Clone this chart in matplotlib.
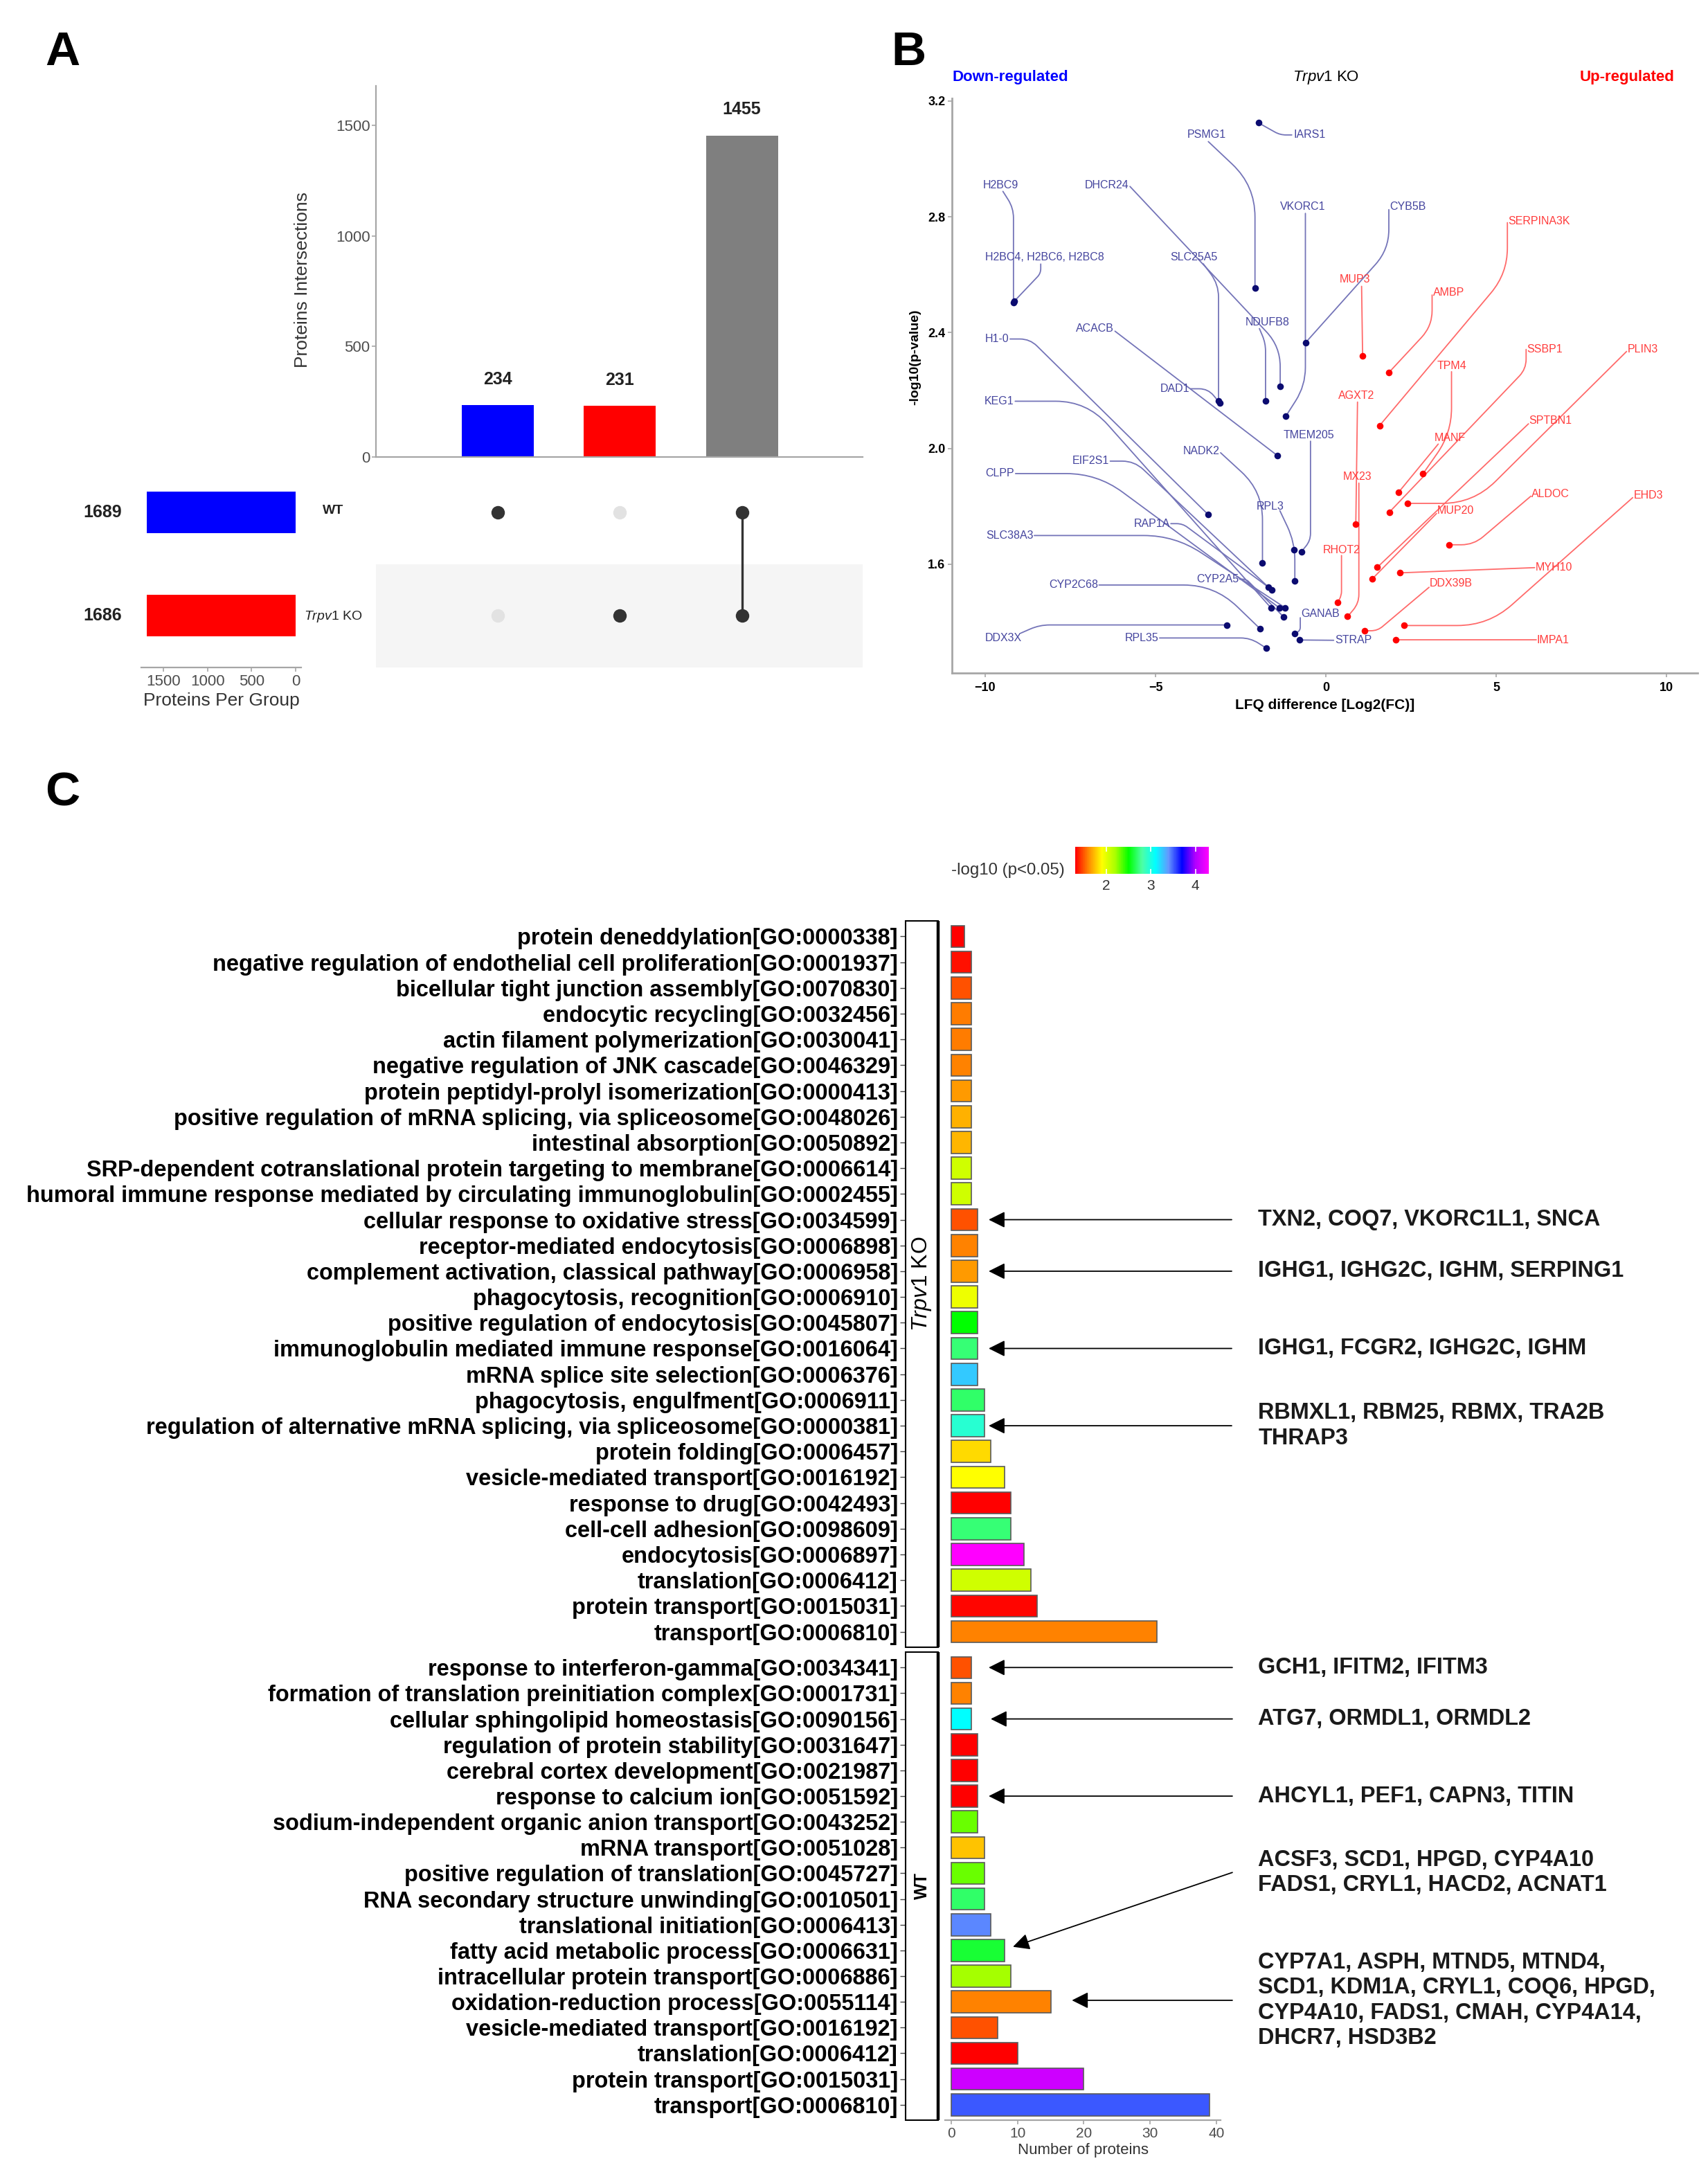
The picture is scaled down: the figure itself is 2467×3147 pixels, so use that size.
import numpy as np
import matplotlib
matplotlib.use('Agg')
import matplotlib.pyplot as plt
from matplotlib import font_manager
from matplotlib.colors import LinearSegmentedColormap, Normalize
from matplotlib.cm import ScalarMappable
from matplotlib.path import Path
from matplotlib.patches import PathPatch, Rectangle
import matplotlib.transforms as mtransforms

# ======================= DATA =======================
# ---- Panel A : UpSet ----
intersection_counts = [234, 231, 1455]
intersection_colors = ['#0000FF', '#FF0000', '#7F7F7F']
member_wt = [1, 0, 1]
member_ko = [0, 1, 1]
set_sizes = [1689, 1686]            # WT, Trpv1 KO
set_colors = ['#0000FF', '#FF0000']

# ---- Panel B : volcano (down-regulated) ----
down_genes = ['IARS1', 'PSMG1', 'H2BC9', 'H2BC4, H2BC6, H2BC8', 'DHCR24', 'SLC25A5', 'DAD1',
              'NDUFB8', 'ACACB', 'VKORC1', 'CYB5B', 'H1-0', 'KEG1', 'EIF2S1', 'CLPP', 'RAP1A',
              'SLC38A3', 'CYP2C68', 'CYP2A5', 'DDX3X', 'RPL35', 'NADK2', 'RPL3', 'TMEM205',
              'GANAB', 'STRAP', '']
down_fc = [-1.98, -2.08, -9.17, -9.15, -1.34, -3.15, -3.12, -1.77, -1.42, -1.17, -0.59, -3.46,
           -1.61, -1.59, -1.36, -1.68, -1.19, -1.94, -1.24, -2.90, -1.75, -1.86, -0.91, -0.72,
           -0.91, -0.77, -0.94]
down_logp = [3.125, 2.553, 2.504, 2.508, 2.214, 2.165, 2.158, 2.163, 1.975, 2.112, 2.366, 1.772,
             1.449, 1.510, 1.449, 1.520, 1.449, 1.378, 1.418, 1.390, 1.310, 1.605, 1.542, 1.643,
             1.360, 1.338, 1.650]
# ---- Panel B : volcano (up-regulated) ----
up_genes = ['MUP3', 'AMBP', 'SERPINA3K', 'TPM4', 'AGXT2', 'MX23', 'RHOT2', 'MANF', 'SSBP1',
            'PLIN3', 'SPTBN1', 'MUP20', 'ALDOC', 'EHD3', 'MYH10', 'DDX39B', 'IMPA1']
up_fc = [1.08, 1.85, 1.58, 2.85, 0.88, 0.64, 0.35, 2.14, 1.86, 2.40, 1.51, 1.37, 3.62, 2.29,
         2.18, 1.14, 2.05]
up_logp = [2.319, 2.262, 2.079, 1.912, 1.739, 1.419, 1.468, 1.849, 1.779, 1.810, 1.589, 1.550,
           1.667, 1.388, 1.570, 1.370, 1.338]

# ---- Panel C : GO enrichment ----
ko_terms = ['protein deneddylation[GO:0000338]',
            'negative regulation of endothelial cell proliferation[GO:0001937]',
            'bicellular tight junction assembly[GO:0070830]',
            'endocytic recycling[GO:0032456]',
            'actin filament polymerization[GO:0030041]',
            'negative regulation of JNK cascade[GO:0046329]',
            'protein peptidyl-prolyl isomerization[GO:0000413]',
            'positive regulation of mRNA splicing, via spliceosome[GO:0048026]',
            'intestinal absorption[GO:0050892]',
            'SRP-dependent cotranslational protein targeting to membrane[GO:0006614]',
            'humoral immune response mediated by circulating immunoglobulin[GO:0002455]',
            'cellular response to oxidative stress[GO:0034599]',
            'receptor-mediated endocytosis[GO:0006898]',
            'complement activation, classical pathway[GO:0006958]',
            'phagocytosis, recognition[GO:0006910]',
            'positive regulation of endocytosis[GO:0045807]',
            'immunoglobulin mediated immune response[GO:0016064]',
            'mRNA splice site selection[GO:0006376]',
            'phagocytosis, engulfment[GO:0006911]',
            'regulation of alternative mRNA splicing, via spliceosome[GO:0000381]',
            'protein folding[GO:0006457]',
            'vesicle-mediated transport[GO:0016192]',
            'response to drug[GO:0042493]',
            'cell-cell adhesion[GO:0098609]',
            'endocytosis[GO:0006897]',
            'translation[GO:0006412]',
            'protein transport[GO:0015031]',
            'transport[GO:0006810]']
ko_counts = [2, 3, 3, 3, 3, 3, 3, 3, 3, 3, 3, 4, 4, 4, 4, 4, 4, 4, 5, 5, 6, 8, 9, 9, 11, 12, 13, 31]
ko_logp = [1.32, 1.35, 1.49, 1.58, 1.59, 1.60, 1.65, 1.71, 1.72, 2.08, 2.08, 1.49, 1.60, 1.65,
           1.97, 2.51, 2.72, 3.25, 2.69, 2.95, 1.82, 1.91, 1.32, 2.72, 4.30, 2.08, 1.33, 1.60]

wt_terms = ['response to interferon-gamma[GO:0034341]',
            'formation of translation preinitiation complex[GO:0001731]',
            'cellular sphingolipid homeostasis[GO:0090156]',
            'regulation of protein stability[GO:0031647]',
            'cerebral cortex development[GO:0021987]',
            'response to calcium ion[GO:0051592]',
            'sodium-independent organic anion transport[GO:0043252]',
            'mRNA transport[GO:0051028]',
            'positive regulation of translation[GO:0045727]',
            'RNA secondary structure unwinding[GO:0010501]',
            'translational initiation[GO:0006413]',
            'fatty acid metabolic process[GO:0006631]',
            'intracellular protein transport[GO:0006886]',
            'oxidation-reduction process[GO:0055114]',
            'vesicle-mediated transport[GO:0016192]',
            'translation[GO:0006412]',
            'protein transport[GO:0015031]',
            'transport[GO:0006810]']
wt_counts = [3, 3, 3, 4, 4, 4, 4, 5, 5, 5, 6, 8, 9, 15, 7, 10, 20, 39]
wt_logp = [1.49, 1.60, 3.10, 1.32, 1.32, 1.32, 2.32, 1.76, 2.32, 2.69, 3.43, 2.60, 2.21, 1.60,
           1.49, 1.32, 4.11, 3.52]

ko_annot_rows = [11, 13, 16, 19]
ko_annot_text = ['TXN2, COQ7, VKORC1L1, SNCA',
                 'IGHG1, IGHG2C, IGHM, SERPING1',
                 'IGHG1, FCGR2, IGHG2C, IGHM',
                 'RBMXL1, RBM25, RBMX, TRA2B\nTHRAP3']
wt_annot_rows = [0, 2, 5, 11, 13]
wt_annot_text = ['GCH1, IFITM2, IFITM3',
                 'ATG7, ORMDL1, ORMDL2',
                 'AHCYL1, PEF1, CAPN3, TITIN',
                 'ACSF3, SCD1, HPGD, CYP4A10\nFADS1, CRYL1, HACD2, ACNAT1',
                 'CYP7A1, ASPH, MTND5, MTND4,\nSCD1, KDM1A, CRYL1, COQ6, HPGD,\nCYP4A10, FADS1, CMAH, CYP4A14,\nDHCR7, HSD3B2']

# ======================= LAYOUT / STYLE =======================
# label placement for volcano: text x, text y, align, line start x, y, path kind, k
LAB = {
    'IARS1': (-0.95, 3.083, 'left', -1.00, 3.083, 'h', 0.35),
    'PSMG1': (-3.50, 3.083, 'center', -3.45, 3.060, 'V', 0.70),
    'H2BC9': (-9.54, 2.910, 'center', -9.48, 2.888, 'V', 0.85),
    'H2BC4, H2BC6, H2BC8': (-8.25, 2.660, 'center', -8.37, 2.637, 'v', 0.25),
    'DHCR24': (-5.78, 2.910, 'right', -5.75, 2.905, 'V', 0.20),
    'SLC25A5': (-3.87, 2.660, 'center', -3.60, 2.638, 'V', 0.85),
    'DAD1': (-4.00, 2.206, 'right', -3.97, 2.206, 'h', 0.60),
    'NDUFB8': (-1.71, 2.436, 'center', -1.95, 2.414, 'V', 0.80),
    'ACACB': (-6.22, 2.413, 'right', -6.19, 2.405, 's', 0),
    'VKORC1': (-0.67, 2.834, 'center', -0.60, 2.812, 'v', 0.85),
    'CYB5B': (1.88, 2.834, 'left', 1.85, 2.825, 'v', 0.30),
    'H1-0': (-9.30, 2.378, 'right', -9.27, 2.378, 'h', 0.10),
    'KEG1': (-9.15, 2.163, 'right', -9.12, 2.163, 'h', 0.28),
    'EIF2S1': (-6.36, 1.956, 'right', -6.33, 1.956, 'h', 0.15),
    'CLPP': (-9.14, 1.913, 'right', -9.11, 1.913, 'h', 0.31),
    'RAP1A': (-4.58, 1.740, 'right', -4.55, 1.740, 'h', 0.12),
    'SLC38A3': (-8.59, 1.699, 'right', -8.56, 1.699, 'h', 0.56),
    'CYP2C68': (-6.69, 1.528, 'right', -6.66, 1.528, 'h', 0.72),
    'CYP2A5': (-2.56, 1.548, 'right', -2.53, 1.548, 'h', 0.15),
    'DDX3X': (-8.93, 1.345, 'right', -8.95, 1.362, 'H', 0.91),
    'RPL35': (-4.91, 1.345, 'right', -4.88, 1.345, 'h', 0.85),
    'NADK2': (-3.12, 1.990, 'right', -3.09, 1.985, 'V', 0.65),
    'RPL3': (-1.64, 1.799, 'center', -1.35, 1.785, 'V', 0.55),
    'TMEM205': (-0.49, 2.046, 'center', -0.45, 2.025, 'v', 0.90),
    'GANAB': (-0.72, 1.429, 'left', -0.75, 1.415, 'v', 0.80),
    'STRAP': (0.26, 1.337, 'left', 0.23, 1.337, 's', 0),
    'MUP3': (0.863, 2.584, 'center', 1.05, 2.560, 's', 0),
    'AMBP': (3.14, 2.538, 'left', 3.12, 2.530, 'v', 0.40),
    'SERPINA3K': (5.36, 2.785, 'left', 5.33, 2.780, 'v', 0.25),
    'TPM4': (3.708, 2.285, 'center', 3.69, 2.265, 'v', 0.60),
    'AGXT2': (0.899, 2.183, 'center', 0.93, 2.160, 's', 0),
    'MX23': (0.936, 1.901, 'center', 0.97, 1.880, 'v', 0.90),
    'RHOT2': (0.461, 1.649, 'center', 0.46, 1.630, 'v', 0.85),
    'MANF': (3.635, 2.035, 'center', 3.30, 2.015, 's', 0),
    'SSBP1': (5.91, 2.342, 'left', 5.88, 2.342, 'v', 0.12),
    'PLIN3': (8.85, 2.342, 'left', 8.83, 2.335, 'H', 0.30),
    'SPTBN1': (5.97, 2.095, 'left', 5.95, 2.085, 's', 0),
    'MUP20': (3.27, 1.786, 'left', 3.25, 1.775, 's', 0),
    'ALDOC': (6.04, 1.842, 'left', 6.02, 1.835, 'H', 0.30),
    'EHD3': (9.035, 1.838, 'left', 9.01, 1.830, 'H', 0.37),
    'MYH10': (6.15, 1.588, 'left', 6.13, 1.588, 's', 0),
    'DDX39B': (3.05, 1.534, 'left', 3.03, 1.520, 'H', 0.20),
    'IMPA1': (6.19, 1.338, 'left', 6.17, 1.338, 's', 0),
}

W, H, DPI = 2467, 3147, 100


def has_font(name):
    try:
        font_manager.findfont(font_manager.FontProperties(family=name), fallback_to_default=False)
        return True
    except Exception:
        return False


BASEFONT = 'Liberation Sans' if has_font('Liberation Sans') else 'DejaVu Sans'
NARROW = 'Liberation Sans Narrow' if has_font('Liberation Sans Narrow') else BASEFONT
plt.rcParams['font.family'] = [BASEFONT, 'DejaVu Sans']
plt.rcParams['mathtext.fontset'] = 'custom'
plt.rcParams['mathtext.rm'] = BASEFONT
plt.rcParams['mathtext.it'] = BASEFONT + ':italic'
plt.rcParams['mathtext.bf'] = BASEFONT + ':bold'

fig = plt.figure(figsize=(W / DPI, H / DPI), dpi=DPI)
fig.patch.set_facecolor('white')
renderer = fig.canvas.get_renderer()


def rect(l, t, r, b):
    return [l / W, 1 - b / H, (r - l) / W, (b - t) / H]


def text_wh(s, **kw):
    t = fig.text(0, 0, s, **kw)
    bb = t.get_window_extent(renderer=renderer)
    t.remove()
    return bb.width, bb.height


def fit(s, target, base=20, **kw):
    return base * target / text_wh(s, fontsize=base, **kw)[0]


GREY_TXT = '#4D4D4D'
DARK_TXT = '#333333'
AXIS_GREY = '#A6A6A6'

# panel letters
for letter, (px, py) in {'A': (90, 76), 'B': (1312, 76), 'C': (90, 1146)}.items():
    fig.text(px / W, 1 - py / H, letter, fontsize=50, fontweight='bold', ha='center', va='center')

# ======================= PANEL A =======================
axA = fig.add_axes(rect(543, 124, 1246, 660))
xpos = np.arange(len(intersection_counts))
axA.bar(xpos, intersection_counts, width=0.59, color=intersection_colors)
for x, c in zip(xpos, intersection_counts):
    axA.annotate(str(c), (x, c), xytext=(0, 27), textcoords='offset points', ha='center',
                 va='center', fontsize=18, fontweight='bold', color='#222222')
axA.set_xlim(-1.0, 2.99)
axA.set_ylim(0, 1680)
axA.set_yticks([0, 500, 1000, 1500])
axA.set_xticks([])
for s in ['top', 'right']:
    axA.spines[s].set_visible(False)
for s in ['left', 'bottom']:
    axA.spines[s].set_color(AXIS_GREY)
    axA.spines[s].set_linewidth(1.6)
axA.tick_params(axis='y', colors=AXIS_GREY, labelcolor=GREY_TXT, labelsize=16, length=4, width=1.2, pad=2)
axA.set_ylabel('Proteins Intersections', fontsize=19, color=DARK_TXT, va='center')
axA.yaxis.set_label_coords(-0.151, 0.478)

axM = fig.add_axes(rect(543, 666, 1246, 964))
axM.set_xlim(-1.0, 2.99)
axM.set_ylim(-0.503, 1.497)
axM.axhspan(-0.5, 0.5, color='#F5F5F5', zorder=0, lw=0)
for x, mw, mk in zip(xpos, member_wt, member_ko):
    rows = [1, 0]
    act = [mw, mk]
    on = [r for r, a in zip(rows, act) if a]
    if len(on) > 1:
        axM.plot([x, x], [min(on), max(on)], color='#333333', lw=2.4, zorder=2)
    for r, a in zip(rows, act):
        axM.plot(x, r, 'o', ms=14, color='#333333' if a else '#E2E2E2', zorder=3, mew=0)
axM.axis('off')

axS = fig.add_axes(rect(204, 666, 435, 964))
axS.barh([1, 0], set_sizes, height=0.4, color=set_colors)
axS.set_xlim(1752, -63)
axS.set_ylim(-0.503, 1.497)
axS.set_xticks([1500, 1000, 500, 0])
axS.set_yticks([])
for s in ['top', 'right', 'left']:
    axS.spines[s].set_visible(False)
axS.spines['bottom'].set_color(AXIS_GREY)
axS.spines['bottom'].set_linewidth(1.6)
axS.tick_params(axis='x', colors=AXIS_GREY, labelcolor=GREY_TXT, labelsize=16, length=4, width=1.2, pad=3)
axS.set_xlabel('Proteins Per Group', fontsize=19, color=DARK_TXT, labelpad=4)
blS = mtransforms.blended_transform_factory(axS.transAxes, axS.transData)
for r, n in zip([1, 0], set_sizes):
    axS.text(-0.242, r, str(n), transform=blS, ha='center', va='center', fontsize=18,
             fontweight='bold', color='#222222')
axS.text(1.199, 1.02, 'WT', transform=blS, ha='center', va='center', fontsize=14,
         fontweight='bold', color='#222222')
axS.text(1.199, -0.01, r'$\mathit{Trpv1}$ KO', transform=blS, ha='center', va='center',
         fontsize=14, color='#222222')

# ======================= PANEL B =======================
axB = fig.add_axes(rect(1375, 141.6, 2452, 972))
axB.set_xlim(-10.976, 10.915)
axB.set_ylim(1.2239, 3.2105)
for s in ['top', 'right']:
    axB.spines[s].set_visible(False)
for s in ['left', 'bottom']:
    axB.spines[s].set_color(AXIS_GREY)
    axB.spines[s].set_linewidth(2)
axB.set_xticks([-10, -5, 0, 5, 10])
axB.set_yticks([1.6, 2.0, 2.4, 2.8, 3.2])
axB.set_yticklabels(['1.6', '2.0', '2.4', '2.8', '3.2'])
axB.tick_params(colors=AXIS_GREY, labelcolor='black', labelsize=13, length=4, width=1.2)
for lab in axB.get_xticklabels() + axB.get_yticklabels():
    lab.set_fontweight('bold')
axB.tick_params(axis='x', pad=5)
axB.tick_params(axis='y', pad=3)
axB.set_xlabel('LFQ difference [Log2(FC)]', fontsize=15, fontweight='bold')
axB.xaxis.set_label_coords(0.5, -0.045)
axB.set_ylabel('-log10(p-value)', fontsize=14, fontweight='bold', va='center')
axB.yaxis.set_label_coords(-0.049, 0.55)

PXX, PXY = 49.2, 418.0   # px per data unit (layout only, for corner rounding)


def connector(ax, sx, sy, px, py, kind, k, color):
    if kind == 's':
        verts = [(sx, sy), (px, py)]
        codes = [Path.MOVETO, Path.LINETO]
    else:
        dx, dy = px - sx, py - sy
        if kind == 'h':
            c = (sx + k * dx, sy)
        elif kind == 'v':
            c = (sx, sy + k * dy)
        elif kind == 'H':
            c = (px - k * dx, py)
        else:
            c = (px, py - k * dy)
        l1 = np.hypot((sx - c[0]) * PXX, (sy - c[1]) * PXY)
        l2 = np.hypot((px - c[0]) * PXX, (py - c[1]) * PXY)
        r = min(45.0, 0.5 * l1, 0.5 * l2)
        t1 = r / l1 if l1 > 0 else 0
        t2 = r / l2 if l2 > 0 else 0
        p1 = (c[0] + (sx - c[0]) * t1, c[1] + (sy - c[1]) * t1)
        p2 = (c[0] + (px - c[0]) * t2, c[1] + (py - c[1]) * t2)
        verts = [(sx, sy), p1, c, p2, (px, py)]
        codes = [Path.MOVETO, Path.LINETO, Path.CURVE3, Path.CURVE3, Path.LINETO]
    ax.add_patch(PathPatch(Path(verts, codes), fill=False, ec=color, lw=1.3, zorder=2,
                           capstyle='round'))


lab_fs = 14 if NARROW != BASEFONT else 11.5
groups = [(down_genes, down_fc, down_logp, '#0B0B70', '#7474B8', '#45459E'),
          (up_genes, up_fc, up_logp, '#FF0000', '#FF6A6A', '#FF3B3B')]
for genes, fc, lp, pc, lc, tc in groups:
    axB.scatter(fc, lp, s=48, color=pc, zorder=4, linewidths=0)
    for g, x, y in zip(genes, fc, lp):
        if not g:
            continue
        tx, ty, ha, sx, sy, kind, k = LAB[g]
        connector(axB, sx, sy, x, y, kind, k, lc)
        axB.text(tx, ty, g, ha=ha, va='center', fontsize=lab_fs, color=tc, family=NARROW, zorder=5)

blB = mtransforms.blended_transform_factory(axB.transData, axB.transAxes)
axB.text(0.0, 1.036, 'Down-regulated', transform=axB.transAxes, ha='left', va='center',
         fontsize=16, fontweight='bold', color='#0000FF')
axB.text(0.0, 1.036, r'$\mathit{Trpv1}$ KO', transform=blB, ha='center', va='center',
         fontsize=16, color='black')
axB.text(0.969, 1.036, 'Up-regulated', transform=axB.transAxes, ha='right', va='center',
         fontsize=16, fontweight='bold', color='#FF0000')

# ======================= PANEL C =======================
rainbow_stops = ['#FF0000', '#FF8A00', '#FFFF00', '#A8FF00', '#00FF00', '#4CFFA6',
                 '#00FFFF', '#6596FF', '#0000FF', '#B000FF', '#FF00FF']
cmap = LinearSegmentedColormap.from_list('rainbow_gg', rainbow_stops)
norm = Normalize(1.31, 4.30)

label_fs = fit(max(ko_terms + wt_terms, key=len), 1259, base=20, fontweight='bold')
annot_fs = fit('CYP4A10, FADS1, CMAH, CYP4A14,', 555, base=20, fontweight='bold')
# line pitch for multi-line annotations (~37.7 px)
_h1 = text_wh('A', fontsize=annot_fs, fontweight='bold', linespacing=1.0)[1]
_h2 = text_wh('A\nA', fontsize=annot_fs, fontweight='bold', linespacing=1.0)[1]
annot_ls = 37.7 / max(_h2 - _h1, 1)

X0 = 0.94
STRIP_L, STRIP_R = -0.1432, -0.0251


def draw_group(rect_px, terms, counts, logp, strip_label, strip_fs, strip_bold, arrows, annots,
               show_x):
    ax = fig.add_axes(rect(*rect_px))
    # spine position first (it resets the ticks)
    ax.spines['left'].set_position(('axes', STRIP_L))
    ax.spines['left'].set_visible(False)
    ax.spines['top'].set_visible(False)
    ax.spines['right'].set_visible(False)
    y = np.arange(len(terms))
    ax.barh(y, counts, height=0.85, color=cmap(norm(np.array(logp))), edgecolor='#5A5A5A',
            linewidth=1.2, zorder=3)
    ax.set_ylim(len(terms) - 1 + 0.6, -0.6)
    ax.set_xlim(-X0, 40.63)
    ax.set_yticks(y)
    ax.set_yticklabels(terms)
    ax.tick_params(axis='y', length=5.8, width=1.0, color='#444444', pad=2.2,
                   labelsize=label_fs, labelcolor='black')
    for t in ax.get_yticklabels():
        t.set_fontweight('bold')
    if show_x:
        ax.spines['bottom'].set_color(AXIS_GREY)
        ax.spines['bottom'].set_linewidth(1.6)
        ax.set_xticks([0, 10, 20, 30, 40])
        ax.tick_params(axis='x', colors=AXIS_GREY, labelcolor=GREY_TXT, labelsize=15, length=4,
                       width=1.2, pad=3)
        ax.set_xlabel('Number of proteins', fontsize=16, color=DARK_TXT, labelpad=3)
    else:
        ax.spines['bottom'].set_visible(False)
        ax.set_xticks([])
    ax.add_patch(Rectangle((STRIP_L, 0), STRIP_R - STRIP_L, 1, transform=ax.transAxes,
                           fill=False, ec='black', lw=1.5, clip_on=False, zorder=5))
    ax.plot([STRIP_R, STRIP_R], [0, 1], transform=ax.transAxes, color='black', lw=3.2,
            clip_on=False, zorder=6, solid_capstyle='butt')
    ax.text((STRIP_L + STRIP_R) / 2, 0.5, strip_label, transform=ax.transAxes, rotation=90,
            ha='center', va='center', fontsize=strip_fs,
            fontweight='bold' if strip_bold else 'normal')
    for (tip_x, tip_y, tail_x, tail_y), txt in zip(arrows, annots):
        ax.annotate('', xy=(tip_x, tip_y), xytext=(tail_x, tail_y), annotation_clip=False,
                    arrowprops=dict(arrowstyle='-|>,head_length=0.9,head_width=0.45',
                                    mutation_scale=16, color='black', lw=1.3,
                                    shrinkA=0, shrinkB=0))
        ax.text(46.3, tail_y, txt, ha='left', va='center', fontsize=annot_fs,
                fontweight='bold', color='#1A1A1A', linespacing=annot_ls, clip_on=False)
    return ax


ko_arrows = [(5.64, r, 42.3, r) for r in ko_annot_rows]
wt_arrows = [(5.64, 0, 42.4, 0), (5.95, 2, 42.4, 2), (5.64, 5, 42.4, 5),
             (9.3, 10.86, 42.4, 7.97), (18.2, 12.94, 42.4, 12.94)]
draw_group((1365, 1330, 1763, 2379), ko_terms, ko_counts, ko_logp, r'$\mathit{Trpv1}$ KO',
           23, False, ko_arrows, ko_annot_text, False)
draw_group((1365, 2386, 1763, 3062), wt_terms, wt_counts, wt_logp, 'WT', 18, True,
           wt_arrows, wt_annot_text, True)

# colour bar
cax = fig.add_axes(rect(1553, 1223, 1746, 1262))
cb = fig.colorbar(ScalarMappable(norm=norm, cmap=cmap), cax=cax, orientation='horizontal',
                  ticks=[2, 3, 4])
cb.outline.set_visible(False)
cax.tick_params(axis='x', which='both', direction='in', length=5, width=1.2, color='white',
                labelcolor=DARK_TXT, labelsize=15, top=True, bottom=True, pad=6)
cax.text(-0.078, 0.12, '-log10 (p<0.05)', transform=cax.transAxes, ha='right', va='center',
         fontsize=fit('-log10 (p<0.05)', 164, base=16), color=DARK_TXT)

fig.savefig('out.png', dpi=DPI, facecolor='white')
